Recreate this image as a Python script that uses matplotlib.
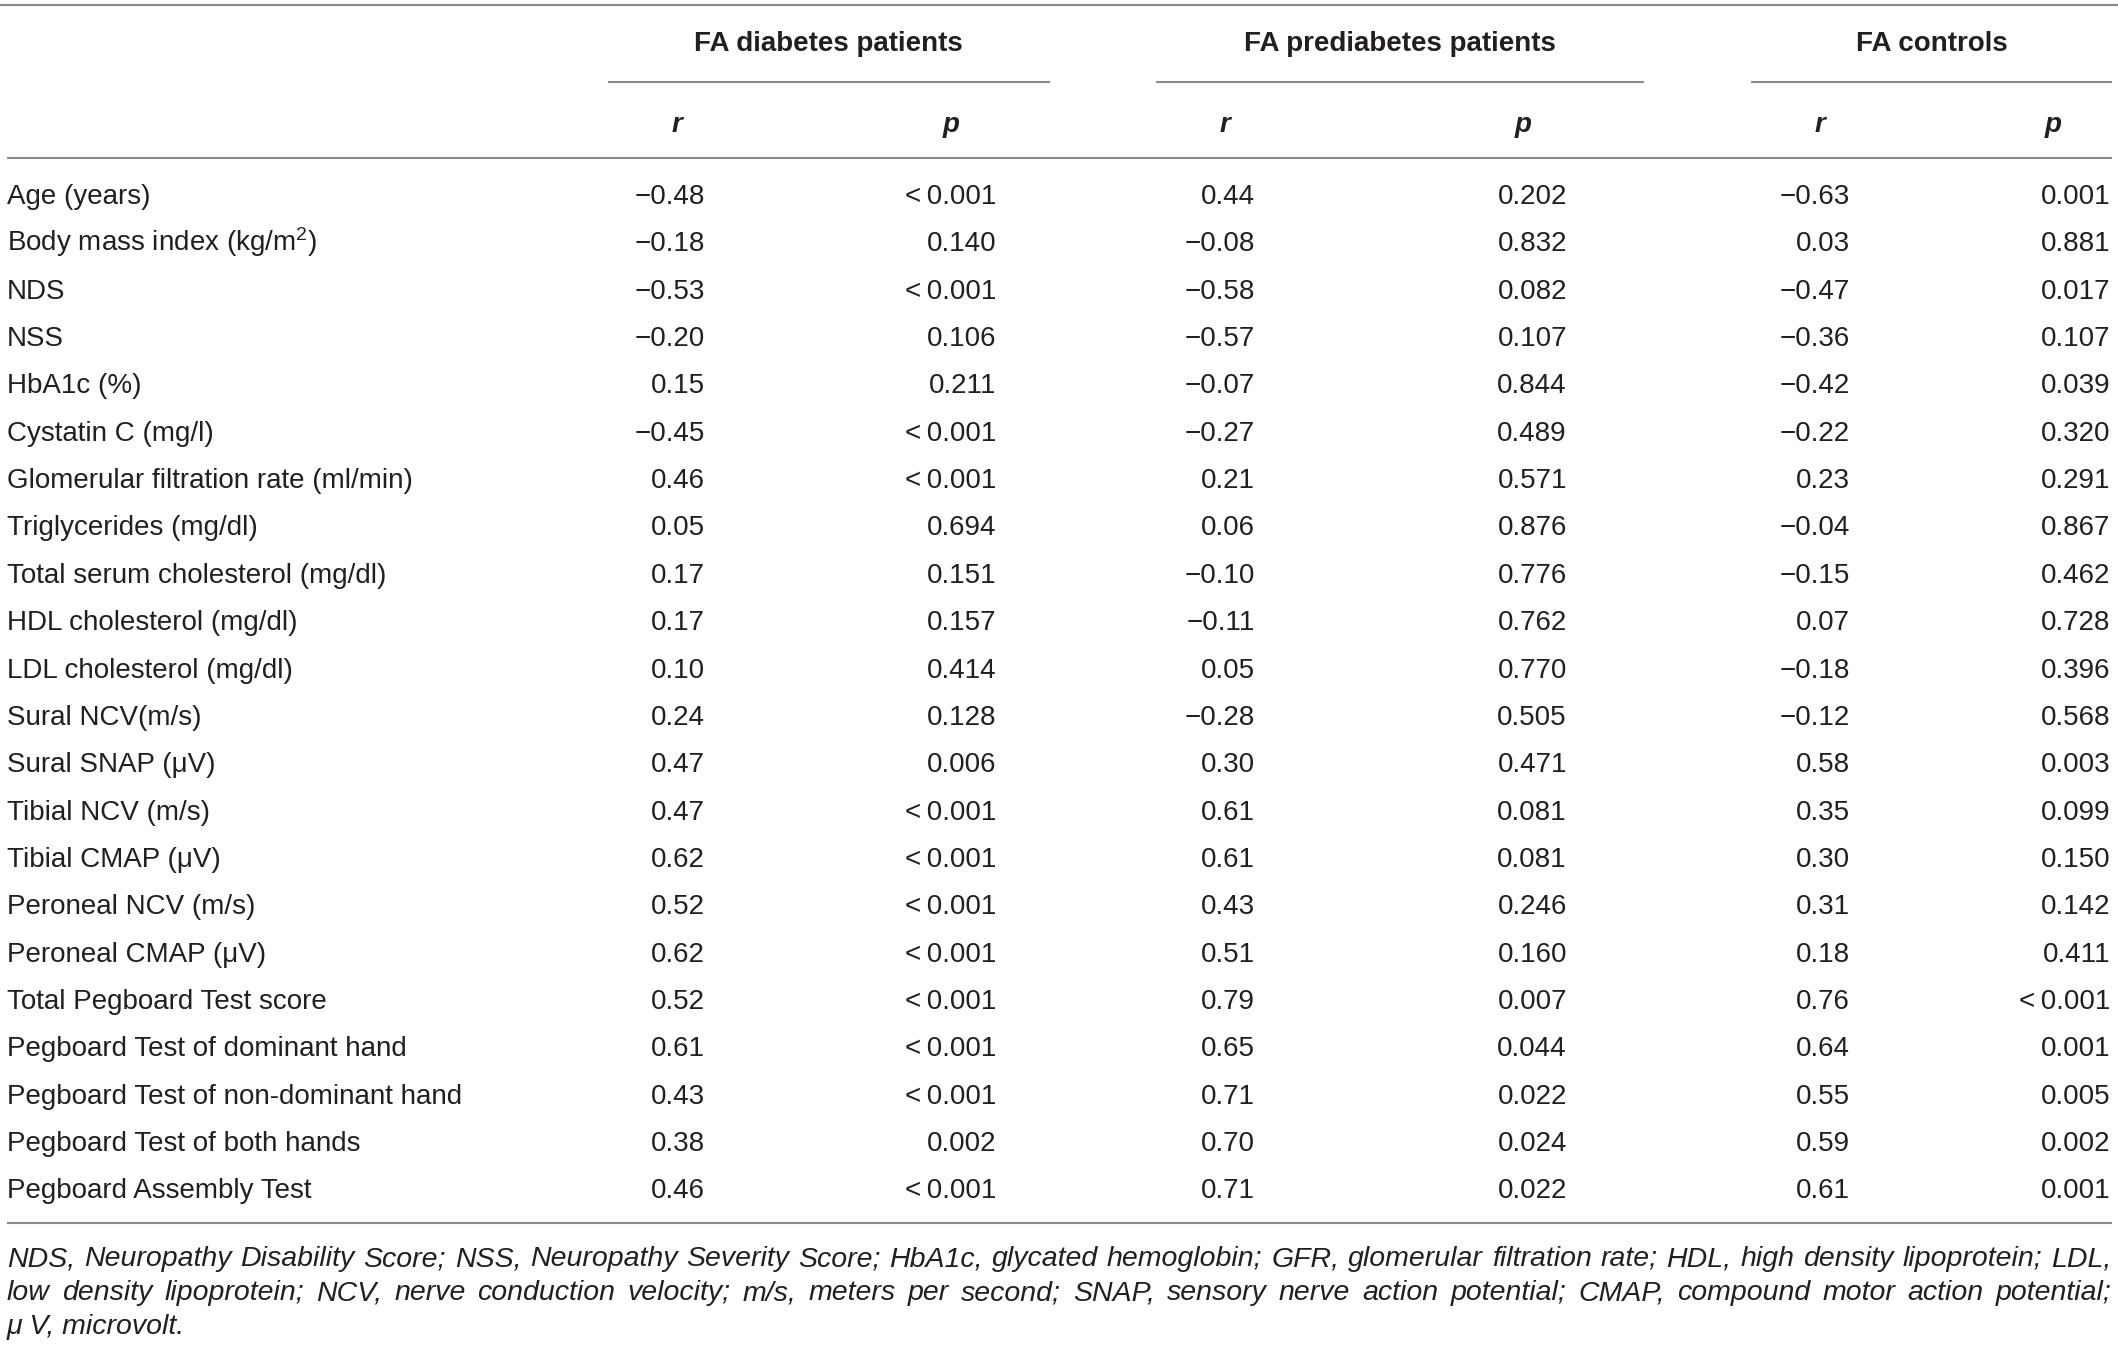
import matplotlib
matplotlib.use("Agg")
import matplotlib.pyplot as plt

plt.rcParams['font.family'] = ['Liberation Sans', 'DejaVu Sans']
plt.rcParams['mathtext.fontset'] = 'custom'
plt.rcParams['mathtext.rm'] = 'Liberation Sans'
plt.rcParams['mathtext.it'] = 'Liberation Sans:italic'
plt.rcParams['mathtext.bf'] = 'Liberation Sans:bold'

groups = ["FA diabetes patients", "FA prediabetes patients", "FA controls"]
sub_headers = ["r", "p"]

labels = [
    "Age (years)",
    "Body mass index (kg/m$^{2}$)",
    "NDS",
    "NSS",
    "HbA1c (%)",
    "Cystatin C (mg/l)",
    "Glomerular filtration rate (ml/min)",
    "Triglycerides (mg/dl)",
    "Total serum cholesterol (mg/dl)",
    "HDL cholesterol (mg/dl)",
    "LDL cholesterol (mg/dl)",
    "Sural NCV(m/s)",
    "Sural SNAP (\u03bcV)",
    "Tibial NCV (m/s)",
    "Tibial CMAP (\u03bcV)",
    "Peroneal NCV (m/s)",
    "Peroneal CMAP (\u03bcV)",
    "Total Pegboard Test score",
    "Pegboard Test of dominant hand",
    "Pegboard Test of non-dominant hand",
    "Pegboard Test of both hands",
    "Pegboard Assembly Test",
]

r_diabetes = [-0.48, -0.18, -0.53, -0.20, 0.15, -0.45, 0.46, 0.05, 0.17, 0.17, 0.10,
              0.24, 0.47, 0.47, 0.62, 0.52, 0.62, 0.52, 0.61, 0.43, 0.38, 0.46]
p_diabetes = ["<0.001", "0.140", "<0.001", "0.106", "0.211", "<0.001", "<0.001", "0.694",
              "0.151", "0.157", "0.414", "0.128", "0.006", "<0.001", "<0.001", "<0.001",
              "<0.001", "<0.001", "<0.001", "<0.001", "0.002", "<0.001"]
r_prediabetes = [0.44, -0.08, -0.58, -0.57, -0.07, -0.27, 0.21, 0.06, -0.10, -0.11, 0.05,
                 -0.28, 0.30, 0.61, 0.61, 0.43, 0.51, 0.79, 0.65, 0.71, 0.70, 0.71]
p_prediabetes = ["0.202", "0.832", "0.082", "0.107", "0.844", "0.489", "0.571", "0.876",
                 "0.776", "0.762", "0.770", "0.505", "0.471", "0.081", "0.081", "0.246",
                 "0.160", "0.007", "0.044", "0.022", "0.024", "0.022"]
r_controls = [-0.63, 0.03, -0.47, -0.36, -0.42, -0.22, 0.23, -0.04, -0.15, 0.07, -0.18,
              -0.12, 0.58, 0.35, 0.30, 0.31, 0.18, 0.76, 0.64, 0.55, 0.59, 0.61]
p_controls = ["0.001", "0.881", "0.017", "0.107", "0.039", "0.320", "0.291", "0.867",
              "0.462", "0.728", "0.396", "0.568", "0.003", "0.099", "0.150", "0.142",
              "0.411", "<0.001", "0.001", "0.005", "0.002", "0.001"]

footnote_lines = [
    "NDS, Neuropathy Disability Score; NSS, Neuropathy Severity Score; HbA1c, glycated hemoglobin; "
    "GFR, glomerular filtration rate; HDL, high density lipoprotein; LDL,",
    "low density lipoprotein; NCV, nerve conduction velocity; m/s, meters per second; SNAP, "
    "sensory nerve action potential; CMAP, compound motor action potential;",
    "\u03bc V, microvolt.",
]

W, H = 2118, 1347
fig = plt.figure(figsize=(W / 100, H / 100), dpi=100)
ax = fig.add_axes([0, 0, 1, 1])
ax.set_xlim(0, W)
ax.set_ylim(H, 0)
ax.axis("off")

TXT = "#231f20"
LINE = "#8a8a8a"
FS = 20
FS_FOOT = 20.5
LW = 1.5

def fmt_r(v):
    s = f"{abs(v):.2f}"
    return ("\u2212" + s) if v < 0 else s

def fmt_p(s):
    return s.replace("<", "<\u2009")

# rules
ax.plot([0, W], [5, 5], color=LINE, lw=LW, solid_capstyle="butt")
group_spans = [(608, 1050), (1156, 1644), (1751, 2112)]
for x0, x1 in group_spans:
    ax.plot([x0, x1], [82, 82], color=LINE, lw=LW, solid_capstyle="butt")
ax.plot([7, 2112], [158, 158], color=LINE, lw=LW, solid_capstyle="butt")
ax.plot([7, 2112], [1223, 1223], color=LINE, lw=LW, solid_capstyle="butt")

# group headers
group_centers = [828, 1400, 1932]
for g, cx in zip(groups, group_centers):
    ax.text(cx, 51, g, ha="center", va="baseline", fontsize=FS, fontweight="bold", color=TXT)

sub_centers = [677, 951, 1225, 1523, 1820, 2053]
for i, cx in enumerate(sub_centers):
    ax.text(cx, 132, sub_headers[i % 2], ha="center", va="baseline", fontsize=FS,
            fontweight="bold", fontstyle="italic", color=TXT)

col_right = [705, 996, 1255, 1567, 1850, 2110]
cols = [[fmt_r(v) for v in r_diabetes], [fmt_p(s) for s in p_diabetes],
        [fmt_r(v) for v in r_prediabetes], [fmt_p(s) for s in p_prediabetes],
        [fmt_r(v) for v in r_controls], [fmt_p(s) for s in p_controls]]

y0, dy = 204, 47.35
for i, lab in enumerate(labels):
    y = y0 + i * dy
    ax.text(7, y, lab, ha="left", va="baseline", fontsize=FS, color=TXT)
    for xr, col in zip(col_right, cols):
        ax.text(xr, y, col[i], ha="right", va="baseline", fontsize=FS, color=TXT)

# footnote, justified
fig.canvas.draw()
renderer = fig.canvas.get_renderer()
foot_y = [1266, 1300, 1334]
left, right = 7, 2111
for li, (line, fy) in enumerate(zip(footnote_lines, foot_y)):
    words = line.split(" ")
    if li == len(footnote_lines) - 1:
        ax.text(left, fy, line, ha="left", va="baseline", fontsize=FS_FOOT,
                fontstyle="italic", color=TXT)
        continue
    texts = [ax.text(0, fy, w, ha="left", va="baseline", fontsize=FS_FOOT,
                     fontstyle="italic", color=TXT) for w in words]
    widths = [t.get_window_extent(renderer).width for t in texts]
    gap = (right - left - sum(widths)) / (len(words) - 1)
    x = left
    for t, w in zip(texts, widths):
        t.set_x(x)
        x += w + gap

fig.savefig("out.png", dpi=100)
